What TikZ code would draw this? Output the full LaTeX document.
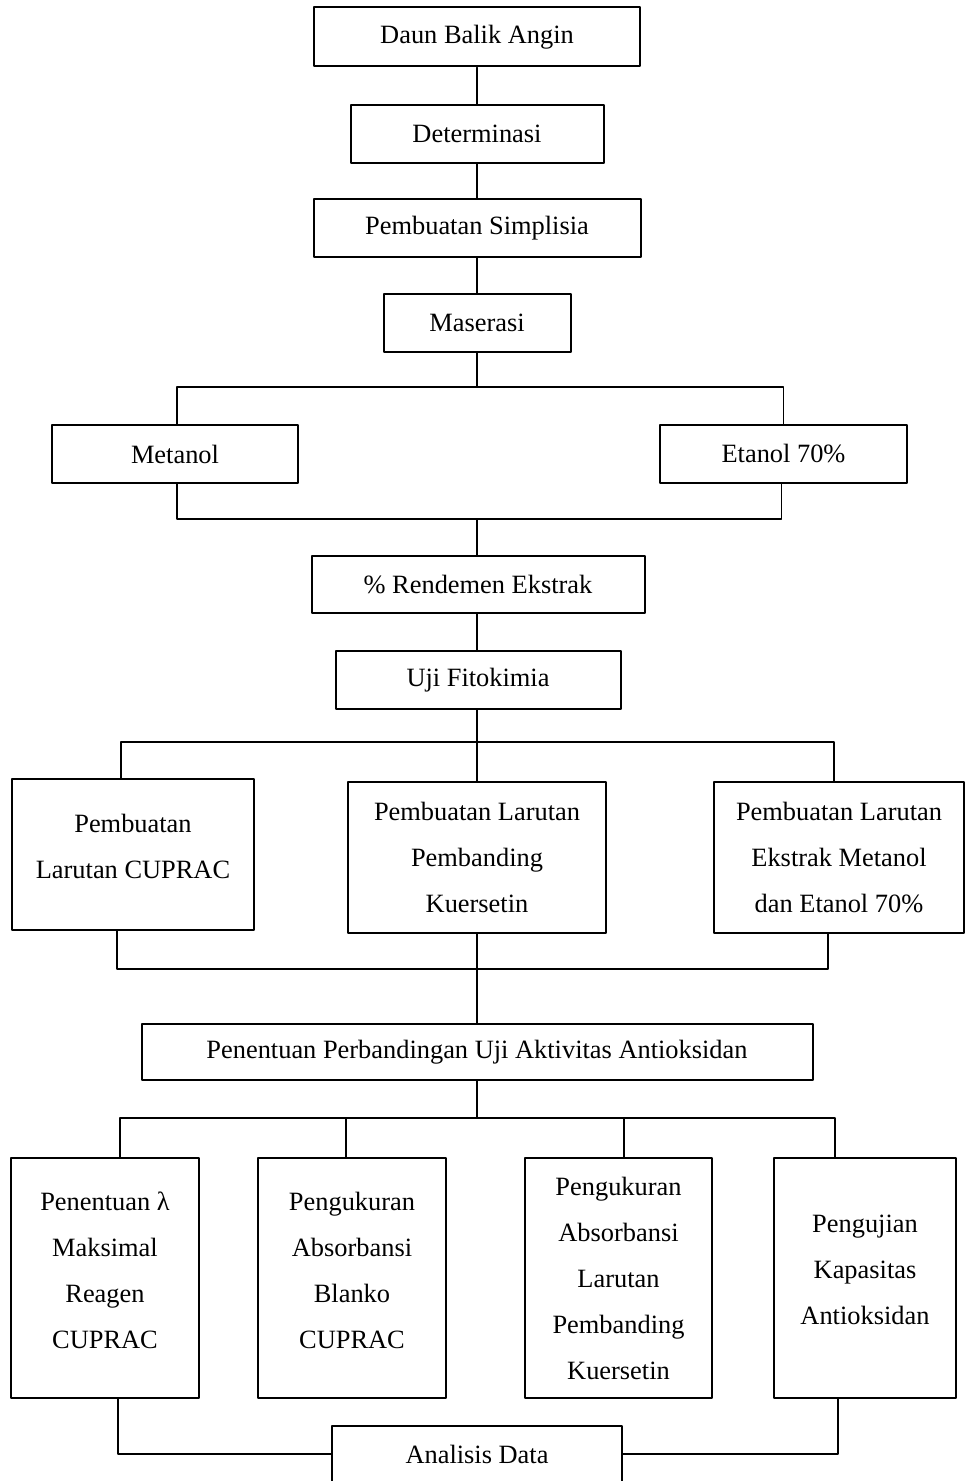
\documentclass[tikz,border=0pt]{standalone}
\usepackage{fontspec}
\setmainfont{Liberation Serif}

\begin{document}
\begin{tikzpicture}[x=0.5pt,y=-0.5pt,line cap=round,line join=round,
  box/.style={draw,line width=1pt,align=center,inner sep=2pt,
    font=\fontsize{13.2}{23}\selectfont},
  raised/.style={text depth=8pt},
  link/.style={line width=0.7pt}]
  \useasboundingbox (0,0) rectangle (965,1481);

  %--- Upper chain ---------------------------------------------------------
  \node[box,minimum width=163pt,minimum height=29.5pt] (daun) at (477,37) {Daun Balik Angin};
  \node[box,minimum width=126.5pt,minimum height=29pt] (det) at (477,134) {Determinasi};
  \node[box,minimum width=163.5pt,minimum height=29pt] (simp) at (477,228) {Pembuatan Simplisia};
  \node[box,minimum width=93.5pt,minimum height=29pt] (mas) at (477,323) {Maserasi};

  \draw[link] (daun.south) -- (det.north);
  \draw[link] (det.south) -- (simp.north);
  \draw[link] (simp.south) -- (mas.north);

  %--- Solvents ------------------------------------------------------------
  \node[box,minimum width=123pt,minimum height=29pt] (met) at (175,454) {Metanol};
  \node[box,minimum width=123.5pt,minimum height=29pt] (et) at (783.5,454) {Etanol 70\%};

  \coordinate (b1) at (477,387);
  \coordinate (j1) at (477,519);
  \draw[link] (mas.south) -- (b1);
  \draw[link] ([xshift=1pt]met.north) |- (b1) -| (et.north);
  \draw[link] ([xshift=1pt]met.south) |- (j1) -| ([xshift=-1pt]et.south);

  \node[box,minimum width=166.5pt,minimum height=28.5pt] (rend) at (478,584.5) {\% Rendemen Ekstrak};
  \node[box,minimum width=142.5pt,minimum height=29pt] (uji) at (478,680) {Uji Fitokimia};

  \draw[link] (j1) -- ([xshift=-0.5pt]rend.north);
  \draw[link] ([xshift=-0.5pt]rend.south) -- ([xshift=-0.5pt]uji.north);

  %--- Solutions -----------------------------------------------------------
  \node[box,raised,minimum width=121pt,minimum height=75.5pt] (lc) at (133,854.5)
       {Pembuatan\\Larutan CUPRAC};
  \node[box,minimum width=129pt,minimum height=75.5pt] (lp) at (477,857.5)
       {Pembuatan Larutan\\Pembanding\\Kuersetin};
  \node[box,minimum width=125pt,minimum height=75.5pt] (le) at (839,857.5)
       {Pembuatan Larutan\\Ekstrak Metanol\\dan Etanol 70\%};

  \coordinate (b2) at (477,742);
  \coordinate (j2) at (477,969);
  \draw[link] ([xshift=-0.5pt]uji.south) -- (lp.north);
  \draw[link] ([xshift=-6pt]lc.north) |- (b2) -| ([xshift=-2.5pt]le.north);
  \draw[link] ([xshift=-8pt]lc.south) |- (j2) -| ([xshift=-5.5pt]le.south);

  \node[box,minimum width=335.5pt,minimum height=28pt] (pp) at (477,1052)
       {Penentuan Perbandingan Uji Aktivitas Antioksidan};
  \draw[link] (lp.south) -- (pp.north);

  %--- Measurements --------------------------------------------------------
  \node[box,raised,minimum width=94pt,minimum height=120pt] (k1) at (105,1278)
       {Penentuan λ\\Maksimal\\Reagen\\CUPRAC};
  \node[box,raised,minimum width=94pt,minimum height=120pt] (k2) at (352,1278)
       {Pengukuran\\Absorbansi\\Blanko\\CUPRAC};
  \node[box,minimum width=93.5pt,minimum height=120pt] (k3) at (618.5,1278)
       {Pengukuran\\Absorbansi\\Larutan\\Pembanding\\Kuersetin};
  \node[box,raised,minimum width=91pt,minimum height=120pt] (k4) at (865,1278)
       {Pengujian\\Kapasitas\\Antioksidan};

  \coordinate (b3) at (477,1118);
  \draw[link] (pp.south) -- (b3);
  \draw[link] ([xshift=7.5pt]k1.north) |- (b3) -| ([xshift=-15pt]k4.north);
  \draw[link] ([xshift=-3pt]k2.north) |- (b3);
  \draw[link] ([xshift=2.75pt]k3.north) |- (b3);

  %--- Analysis (cut at the lower edge) ------------------------------------
  \node[box,draw=none,minimum width=144pt,minimum height=27pt] (ana) at (477,1454) {Analisis Data};
  \draw[line width=1pt] (ana.south west) |- (ana.north east) -- (ana.south east);

  \draw[link] ([xshift=6.5pt]k1.south) |- (ana.west);
  \draw[link] ([xshift=-13.5pt]k4.south) |- (ana.east);
\end{tikzpicture}
\end{document}
